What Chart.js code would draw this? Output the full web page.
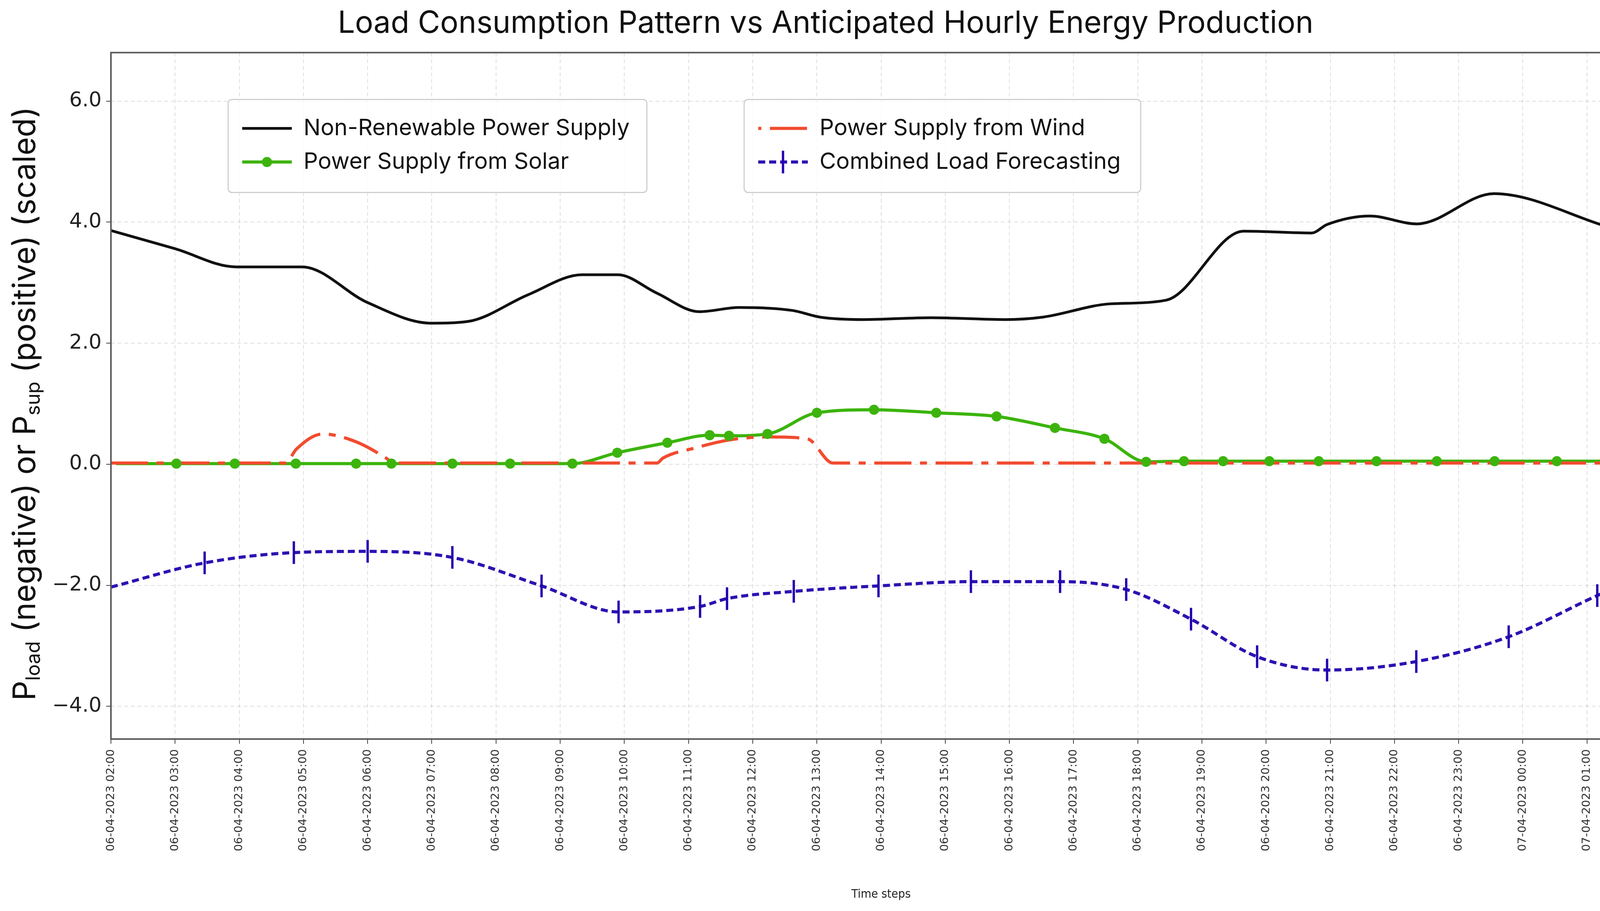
<!DOCTYPE html>
<html>
<head>
<meta charset="utf-8">
<script src="https://cdn.jsdelivr.net/npm/chart.js@4.4.0/dist/chart.umd.min.js"></script>
<style>
  html, body { margin: 0; padding: 0; background: #fff; overflow: hidden; }
  #chart { display: block; width: 100vw; height: 100vh; }
</style>
</head>
<body>
<canvas id="chart" width="4235" height="2331"></canvas>
<script>
// x axis = hours after 06-04-2023 02:00
const hourLabels = [
  "06-04-2023 02:00", "06-04-2023 03:00", "06-04-2023 04:00", "06-04-2023 05:00",
  "06-04-2023 06:00", "06-04-2023 07:00", "06-04-2023 08:00", "06-04-2023 09:00",
  "06-04-2023 10:00", "06-04-2023 11:00", "06-04-2023 12:00", "06-04-2023 13:00",
  "06-04-2023 14:00", "06-04-2023 15:00", "06-04-2023 16:00", "06-04-2023 17:00",
  "06-04-2023 18:00", "06-04-2023 19:00", "06-04-2023 20:00", "06-04-2023 21:00",
  "06-04-2023 22:00", "06-04-2023 23:00", "07-04-2023 00:00", "07-04-2023 01:00"
];
const yTickValues = [-4, -2, 0, 2, 4, 6];

const nonRenewableHours = [0, 1.0, 1.95, 2.98, 4.0, 4.99, 5.57, 6.5, 7.34, 7.9, 8.5, 9.17, 9.79, 10.62, 11.05, 11.72, 12.78, 13.94, 14.52, 15.58, 16.44, 17.65, 18.71, 18.95, 19.62, 20.35, 21.55, 23.33];
const nonRenewableValues = [3.86, 3.56, 3.26, 3.26, 2.67, 2.33, 2.36, 2.8, 3.13, 3.13, 2.83, 2.52, 2.59, 2.54, 2.43, 2.39, 2.42, 2.39, 2.43, 2.65, 2.71, 3.85, 3.82, 3.96, 4.1, 3.97, 4.47, 3.92];

const solarHours = [0.08, 1.02, 1.93, 2.88, 3.82, 4.37, 5.32, 6.22, 7.19, 7.89, 8.67, 9.33, 9.63, 10.23, 11.0, 11.89, 12.86, 13.8, 14.71, 15.48, 16.13, 16.72, 17.33, 18.05, 18.82, 19.72, 20.66, 21.56, 22.53, 23.35];
const solarValues = [0.01, 0.01, 0.01, 0.01, 0.01, 0.01, 0.01, 0.01, 0.01, 0.19, 0.355, 0.48, 0.47, 0.5, 0.85, 0.9, 0.85, 0.79, 0.6, 0.42, 0.04, 0.05, 0.05, 0.05, 0.05, 0.05, 0.05, 0.05, 0.05, 0.05];

const windHours = [0, 2.72, 2.89, 3.3, 3.82, 4.29, 4.4, 8.51, 8.6, 9.11, 9.63, 10.23, 10.85, 11.25, 23.35];
const windValues = [0.02, 0.02, 0.25, 0.5, 0.37, 0.1, 0.02, 0.02, 0.1, 0.27, 0.4, 0.45, 0.42, 0.02, 0.02];

const loadHours = [0, 1.46, 2.85, 4.0, 5.32, 6.71, 7.91, 9.18, 9.6, 10.64, 11.96, 13.4, 14.79, 15.82, 16.83, 17.86, 18.95, 20.34, 21.78, 23.16, 23.51];
const loadValues = [-2.03, -1.63, -1.46, -1.44, -1.54, -2.01, -2.44, -2.35, -2.22, -2.1, -2.01, -1.94, -1.94, -2.07, -2.56, -3.18, -3.4, -3.26, -2.85, -2.17, -2.01];

const legendGroups = [
  ["Non-Renewable Power Supply", "Power Supply from Solar"],
  ["Power Supply from Wind", "Combined Load Forecasting"]
];
const yTitleParts = [["P", false], ["load", true], [" (negative) or P", false], ["sup", true], [" (positive) (scaled)", false]];

function toPoints(xs, ys) {
  return xs.map((x, i) => ({ x: x, y: ys[i] }));
}
// no marker on the first and last point
function innerRadius(r, n) {
  return (ctx) => (ctx.dataIndex === 0 || ctx.dataIndex === n - 1 ? 0 : r);
}

const gridStyle = { color: "rgba(0,0,0,0.13)", lineWidth: 2, tickColor: "#444", tickWidth: 2, tickLength: 12 };

//frame round the plot
const plotFrame = {
  id: "plotFrame",
  afterDatasetsDraw(chart) {
    const { ctx, chartArea } = chart;
    ctx.save();
    ctx.strokeStyle = "#5a5a5a";
    ctx.lineWidth = 4;
    ctx.strokeRect(chartArea.left, chartArea.top, chartArea.right - chartArea.left, chartArea.bottom - chartArea.top);
    ctx.restore();
  }
};

// y title with subscripts
const yAxisTitle = {
  id: "yAxisTitle",
  afterDraw(chart) {
    const { ctx, chartArea } = chart;
    const mainFont = "80px Inter";
    const subFont = "50px Inter";
    ctx.save();
    let total = 0;
    const widths = yTitleParts.map(([t, sub]) => {
      ctx.font = sub ? subFont : mainFont;
      const w = ctx.measureText(t).width;
      total += w;
      return w;
    });
    ctx.translate(61, (chartArea.top + chartArea.bottom) / 2 + 20);
    ctx.rotate(-Math.PI / 2);
    ctx.fillStyle = "#111";
    ctx.textBaseline = "alphabetic";
    let x = -total / 2;
    yTitleParts.forEach(([t, sub], i) => {
      ctx.font = sub ? subFont : mainFont;
      ctx.fillText(t, x, sub ? 41 : 29);
      x += widths[i];
    });
    ctx.restore();
  }
};

// two legend boxes like the original
const legendBoxes = {
  id: "legendBoxes",
  afterDraw(chart) {
    const { ctx, chartArea } = chart;
    const boxes = [
      { left: chartArea.left + 300, width: 1072 },
      { left: chartArea.left + 1621, width: 1015 }
    ];
    const top = chartArea.top + 120;
    const height = 238;
    const rows = [74, 160];
    ctx.save();
    boxes.forEach((box, b) => {
      ctx.beginPath();
      ctx.roundRect(box.left, top, box.width, height, 10);
      ctx.fillStyle = "rgba(255,255,255,0.8)";
      ctx.fill();
      ctx.strokeStyle = "#cfcfcf";
      ctx.lineWidth = 3;
      ctx.stroke();
      legendGroups[b].forEach((label, r) => {
        const ds = chart.data.datasets.find((d) => d.label === label);
        const y = top + rows[r];
        const x0 = box.left + 36;
        const x1 = x0 + 127;
        ctx.setLineDash(ds.borderDash || []);
        ctx.lineDashOffset = ds.legendDashOffset || 0;
        ctx.strokeStyle = ds.borderColor;
        ctx.lineWidth = ds.borderWidth;
        ctx.beginPath();
        ctx.moveTo(x0, y);
        ctx.lineTo(x1, y);
        ctx.stroke();
        ctx.setLineDash([]);
        ctx.lineDashOffset = 0;
        const xm = (x0 + x1) / 2;
        if (ds.legendMarker === "circle") {
          ctx.beginPath();
          ctx.arc(xm, y, 13, 0, Math.PI * 2);
          ctx.fillStyle = ds.pointBackgroundColor;
          ctx.fill();
        } else if (ds.legendMarker === "vline") {
          ctx.beginPath();
          ctx.moveTo(xm, y - 29);
          ctx.lineTo(xm, y + 29);
          ctx.strokeStyle = ds.pointBorderColor;
          ctx.lineWidth = ds.pointBorderWidth;
          ctx.stroke();
        }
        ctx.fillStyle = "#111";
        ctx.font = "58px Inter";
        ctx.textBaseline = "middle";
        ctx.fillText(label, box.left + 193, y);
      });
    });
    ctx.restore();
  }
};

const chart = new Chart(document.getElementById("chart"), {
  type: "line",
  data: {
    datasets: [
      {
        label: "Non-Renewable Power Supply",
        data: toPoints(nonRenewableHours, nonRenewableValues),
        borderColor: "#111111",
        borderWidth: 7,
        pointRadius: 0,
        cubicInterpolationMode: "monotone",
        order: 5
      },
      {
        label: "Power Supply from Solar",
        data: toPoints(solarHours, solarValues),
        borderColor: "#3cb40d",
        borderWidth: 8,
        pointRadius: 0,
        pointBackgroundColor: "#3cb40d",
        legendMarker: "circle",
        cubicInterpolationMode: "monotone",
        order: 4
      },
      {
        label: "Power Supply from Wind",
        data: toPoints(windHours, windValues),
        borderColor: "#f24b2f",
        borderWidth: 8,
        borderDash: [95, 22, 18, 22],
        legendDashOffset: 127,
        pointRadius: 0,
        cubicInterpolationMode: "monotone",
        order: 3
      },
      {
        label: "solar markers",
        data: toPoints(solarHours, solarValues),
        showLine: false,
        pointRadius: innerRadius(13, solarHours.length),
        pointBackgroundColor: "#3cb40d",
        pointBorderWidth: 0,
        order: 2
      },
      {
        label: "Combined Load Forecasting",
        data: toPoints(loadHours, loadValues),
        borderColor: "#2c12b2",
        borderWidth: 8,
        borderDash: [18, 10],
        pointStyle: "line",
        pointRotation: 90,
        pointRadius: innerRadius(29, loadHours.length),
        pointBorderColor: "#2400b0",
        pointBorderWidth: 6,
        legendMarker: "vline",
        cubicInterpolationMode: "monotone",
        order: 1
      }
    ]
  },
  options: {
    responsive: false,
    devicePixelRatio: 1,
    animation: false,
    layout: { padding: { left: 0, right: 8, top: 0, bottom: 0 } },
    plugins: {
      legend: { display: false },
      tooltip: { enabled: false },
      title: {
        display: true,
        text: "Load Consumption Pattern vs Anticipated Hourly Energy Production",
        font: { family: "Inter", size: 78, weight: "normal" },
        color: "#111",
        padding: { top: 14, bottom: 27 }
      }
    },
    scales: {
      x: {
        type: "linear",
        min: 0,
        max: 24,
        afterBuildTicks: (s) => { s.ticks = hourLabels.map((_, i) => ({ value: i })); },
        afterFit: (s) => { s.height = 440; },
        ticks: {
          autoSkip: false,
          maxRotation: 90,
          minRotation: 90,
          callback: (v, i) => hourLabels[i],
          font: { family: "DejaVu Sans", size: 29 },
          color: "#333",
          padding: 14
        },
        grid: gridStyle,
        border: { display: false, dash: [10, 7] },
        title: {
          display: true,
          text: "Time steps",
          font: { family: "'Liberation Sans Narrow', 'DejaVu Sans Condensed', sans-serif", size: 31 },
          color: "#222",
          padding: { top: 0, bottom: 23 }
        }
      },
      y: {
        min: -4.54,
        max: 6.8,
        afterBuildTicks: (s) => { s.ticks = yTickValues.map((v) => ({ value: v })); },
        afterFit: (s) => { s.width = 284; },
        ticks: {
          callback: (v) => (v < 0 ? "\u2212" : "") + Math.abs(v).toFixed(1),
          font: { family: "DejaVu Sans", size: 52 },
          color: "#222",
          padding: 12
        },
        grid: gridStyle,
        border: { display: false, dash: [10, 7] }
      }
    }
  },
  plugins: [plotFrame, yAxisTitle, legendBoxes]
});
</script>
</body>
</html>
